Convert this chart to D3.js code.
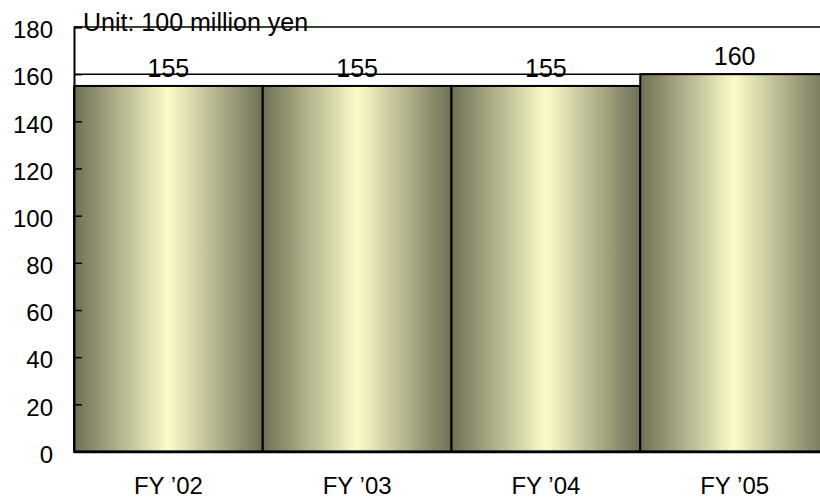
<!DOCTYPE html>
<html>
<head>
<meta charset="utf-8">
<script src="https://cdn.jsdelivr.net/npm/d3@7"></script>
<style>
  html, body { margin: 0; padding: 0; background: #fff; }
  svg { display: block; font-family: "Liberation Sans", Arial, sans-serif; }
</style>
</head>
<body>
<svg id="chart" width="820" height="499"></svg>
<script>
// Sales by fiscal year (unit: 100 million yen)
const categories = ["FY \u201902", "FY \u201903", "FY \u201904", "FY \u201905"];
const values = [155, 155, 155, 160];
const yTicks = [0, 20, 40, 60, 80, 100, 120, 140, 160, 180];
const gridValues = [160];
const unitLabel = "Unit: 100 million yen";

const svg = d3.select("#chart");
const plot = { left: 74, right: 829, top: 27, bottom: 451.5 };

const x = d3.scaleBand().domain(categories).range([plot.left, plot.right]).padding(0);
const y = d3.scaleLinear().domain([0, 180]).range([plot.bottom, plot.top]);

// Horizontal shading for the bars: dark olive edges, pale yellow centre
const defs = svg.append("defs");
const grad = defs.append("linearGradient")
  .attr("id", "barShade").attr("x1", "0").attr("x2", "1").attr("y1", "0").attr("y2", "0");
[[0, "#6f6f55"], [0.5, "#fcfcc9"], [1, "#6f6f55"]].forEach(([o, c]) =>
  grad.append("stop").attr("offset", o).attr("stop-color", c));

// Plot frame top at the axis maximum
svg.append("line")
  .attr("x1", plot.left).attr("x2", 820)
  .attr("y1", y(180)).attr("y2", y(180))
  .attr("stroke", "#000").attr("stroke-width", 1.5);

// Gridline
svg.selectAll(".grid").data(gridValues).join("line")
  .attr("class", "grid")
  .attr("x1", plot.left).attr("x2", 820)
  .attr("y1", d => y(d)).attr("y2", d => y(d))
  .attr("stroke", "#000").attr("stroke-width", 1.5);

// Bars
svg.selectAll(".bar").data(values).join("rect")
  .attr("class", "bar")
  .attr("x", (d, i) => x(categories[i]))
  .attr("y", d => y(d))
  .attr("width", x.bandwidth())
  .attr("height", d => y(0) - y(d))
  .attr("fill", "url(#barShade)")
  .attr("stroke", "#000").attr("stroke-width", 2);

// Value labels
svg.selectAll(".val").data(values).join("text")
  .attr("class", "val")
  .attr("x", (d, i) => x(categories[i]) + x.bandwidth() / 2)
  .attr("y", d => y(d) - 9)
  .attr("text-anchor", "middle")
  .attr("font-size", 25)
  .attr("fill", "#000")
  .text(d => d);

// Y axis with inward ticks
const yAxis = d3.axisLeft(y).tickValues(yTicks).tickSize(-8).tickPadding(21);
const gy = svg.append("g").attr("transform", `translate(${plot.left},0)`).call(yAxis);
gy.select(".domain").attr("stroke", "#000").attr("stroke-width", 2);
gy.selectAll(".tick line").attr("stroke", "#000").attr("stroke-width", 1.5);
gy.selectAll(".tick text")
  .attr("font-size", 24).attr("fill", "#000")
  .attr("font-family", "'Liberation Sans', Arial, sans-serif")
  .attr("dy", "0.45em");

// X axis baseline and category labels
const xAxis = d3.axisBottom(x).tickSize(0).tickPadding(25);
const gx = svg.append("g").attr("transform", `translate(0,${plot.bottom})`).call(xAxis);
gx.select(".domain").attr("stroke", "#000").attr("stroke-width", 2.5);
gx.selectAll(".tick text")
  .attr("font-size", 24).attr("fill", "#000")
  .attr("font-family", "'Liberation Sans', Arial, sans-serif");

// Unit note
svg.append("text")
  .attr("x", 83).attr("y", 31)
  .attr("font-size", 25).attr("fill", "#000")
  .text(unitLabel);
</script>
</body>
</html>
